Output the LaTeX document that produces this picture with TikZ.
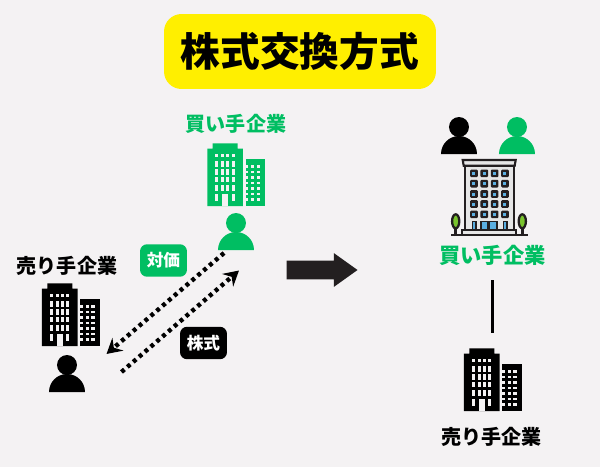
\documentclass[tikz,border=0pt]{standalone}
\usepackage{fontspec}
\usepackage{tikz}
\usetikzlibrary{arrows.meta,shapes.arrows}
\newfontfamily\cjk{Noto Sans CJK JP}
\definecolor{paper}{HTML}{F4F2F3}
\definecolor{buyer}{HTML}{00BE62}
\definecolor{banner}{HTML}{FFEF00}
\definecolor{ink}{HTML}{231F20}
\definecolor{wall}{HTML}{E6E6E6}
\definecolor{glass}{HTML}{5AAEE0}
\definecolor{leaf}{HTML}{7AC52E}
\tikzset{
  pics/person/.style={code={
    \fill [#1] (0,-27) circle (10);
    \fill [#1] (-18,0) arc [start angle=180,end angle=360,radius=18] -- cycle;
  }},
  pics/towers/.style={code={
    \fill [#1] (0,0) -- (0,-57.3) -- (5.3,-57.3) -- (5.3,-62.7) -- (30.3,-62.7) -- (30.3,-57.3) -- (35.7,-57.3) -- (35.7,0) -- cycle;
    \fill [#1] (38.3,0) rectangle (57.7,-46.7);
    \foreach \wx in {8,13.7,19,24.3} {
      \fill [paper] (\wx,-52) rectangle +(3.2,2.7);
      \foreach \wy in {-44.7,-36.7,-29,-20.7}
        \fill [paper] (\wx,\wy) rectangle +(3.2,5.3);
    }
    \fill [paper] (8,-12) rectangle +(3.2,7);
    \fill [paper] (24.3,-12) rectangle +(3.2,7);
    \fill [paper] (15,-12) rectangle (20.7,0);
    \foreach \wy in {-41,-35.5,-30,-24.5,-19,-13.5,-8} {
      \fill [paper] (38.3,\wy) rectangle +(2.7,2.7);
      \fill [paper] (43.7,\wy) rectangle +(3.3,2.7);
      \fill [paper] (49.3,\wy) rectangle +(3.4,2.7);
    }
  }},
  pics/hotel/.style={code={
    \foreach \tx in {-33.5,33.1} {
      \draw [ink,line width=1.4pt] (\tx,0) -- (\tx,-8);
      \draw [ink,fill=leaf,line width=1.3pt] (\tx,-14.7) ellipse (3.6 and 7);
    }
    \draw [ink,fill=wall,line width=1.3pt] (-24.5,-4) rectangle (24.5,-70.3);
    \draw [ink,fill=wall,line width=1.2pt] (-26.5,-76) -- (26.5,-76) -- (25.5,-70.3) -- (-25.5,-70.3) -- cycle;
    \foreach \wx in {-15.2,-4.9,5.5,15.8}
      \foreach \wy in {-62.7,-52.3,-42,-32,-21.7} {
        \fill [ink,rounded corners=0.6pt] (\wx-3.8,\wy-3.8) rectangle (\wx+3.8,\wy+3.8);
        \fill [glass] (\wx-1.5,\wy-1.5) rectangle (\wx+1.5,\wy+1.5);
      }
    \draw [ink,fill=glass,line width=0.9pt] (-16.8,-14.3) rectangle (-13.2,-6);
    \draw [ink,fill=glass,line width=0.9pt] (14.2,-14.3) rectangle (17.8,-6);
    \draw [ink,fill=glass,line width=0.9pt] (-8,-14.3) rectangle (-1,-6);
    \draw [ink,fill=glass,line width=0.9pt] (0.5,-14.3) rectangle (8,-6);
    \draw [ink,fill=wall,line width=0.9pt] (-27,-1) rectangle (27,-6);
    \fill [ink] (-38.2,0) rectangle (38.8,-2.4);
  }}
}
\begin{document}
\begin{tikzpicture}[x=0.02cm,y=-0.02cm]
\tikzstyle{firm}=[font=\cjk\bfseries\fontsize{11.4}{13}\selectfont,inner sep=0pt];
\tikzstyle{badge}=[rounded corners=4pt,minimum width=0.94cm,minimum height=0.65cm,inner sep=0pt,text=white,font=\cjk\bfseries\fontsize{9.5}{11}\selectfont];
\tikzstyle{deal}=[-{Stealth[length=8.5pt,width=9.5pt,inset=3pt]},line width=2.5pt,dash pattern=on 2.2pt off 2.2pt];
\fill [paper] (0,0) rectangle (600,467);
\useasboundingbox (0,0) rectangle (600,467);

\node [fill=banner,rounded corners=10pt,minimum width=5.44cm,minimum height=1.5cm,inner sep=0pt,font=\cjk\bfseries\fontsize{22.6}{26}\selectfont] (heading) at (300,51.5) {株式交換方式};

% left side
\node [firm,text=buyer] (buyerleft) at (236,124) {買い手企業};
\node [firm,text=black] (sellerleft) at (67,266) {売り手企業};
\pic (buyertowers) at (207.3,206) {towers=buyer};
\pic (sellertowers) at (42,346) {towers=black};
\pic (buyerman) at (236,250) {person=buyer};
\pic (sellerman) at (67,392) {person=black};
\node [badge,fill=buyer] (cash) at (163.5,260.5) {対価};
\node [badge,fill=black] (stock) at (203.5,343) {株式};

\coordinate (cashfrom) at (224,253);
\coordinate (cashto) at (106.5,354);
\coordinate (stockfrom) at (121.5,372);
\coordinate (stockto) at (239,270.5);
\draw [deal] (cashfrom) -- (cashto);
\draw [deal] (stockfrom) -- (stockto);

\node [single arrow,fill=ink,inner sep=0pt,minimum height=1.42cm,single arrow head extend=0.15cm,single arrow tip angle=71] (merge) at (315.5,270) {\rule{0pt}{0.36cm}};

% right side
\pic (blackman) at (459,154) {person=black};
\pic (greenman) at (517,154) {person=buyer};
\pic (parent) at (489.2,236) {hotel};
\node [firm,text=buyer,font=\cjk\bfseries\fontsize{12.1}{14}\selectfont] (buyerright) at (492.5,255) {買い手企業};
\coordinate (linktop) at (492.5,280);
\coordinate (linkend) at (492.5,333);
\draw [line width=2.2pt] (linktop) -- (linkend);
\pic (subsidiary) at (464,411) {towers=black};
\node [firm,text=black] (sellerright) at (491.5,437) {売り手企業};
\end{tikzpicture}
\end{document}
